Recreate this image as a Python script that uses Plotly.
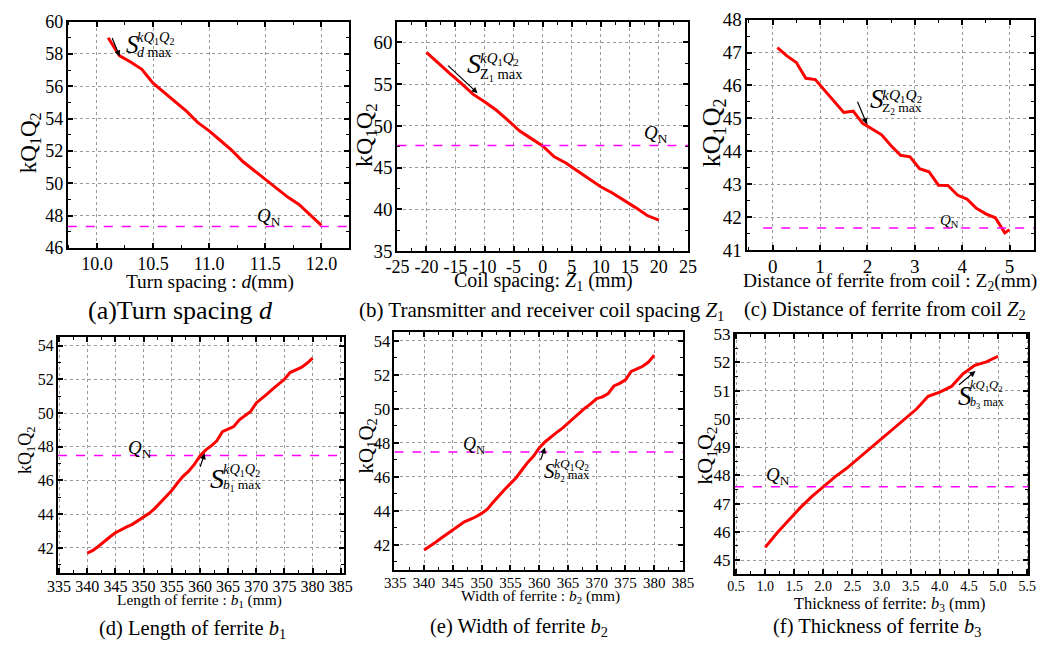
import plotly.graph_objects as go

W, H = 1053, 652
FONT = "Liberation Serif, Times New Roman, Times, serif"

# ---------------- data ----------------
d_a = [10.1, 10.2, 10.3, 10.4, 10.5, 10.6, 10.7, 10.8, 10.9, 11.0,
       11.1, 11.2, 11.3, 11.4, 11.5, 11.6, 11.7, 11.8, 11.9, 12.0]
kq_a = [59.0, 57.9, 57.5, 57.05, 56.2, 55.6, 55.0, 54.45, 53.75, 53.25,
        52.65, 52.05, 51.35, 50.8, 50.3, 49.7, 49.15, 48.7, 48.05, 47.4]
qn_a = 47.34

z1_b = [-20, -18, -16, -14, -12, -10, -8, -6, -4, -2, 0,
        2, 4, 6, 8, 10, 12, 14, 16, 18, 20]
kq_b = [58.8, 57.5, 56.3, 55.1, 53.8, 52.9, 51.9, 50.7, 49.4, 48.5, 47.6,
        46.3, 45.55, 44.6, 43.6, 42.7, 41.95, 41.1, 40.2, 39.25, 38.7]
qn_b = 47.65

z2_c = [0.1, 0.3, 0.5, 0.7, 0.9, 1.1, 1.3, 1.5, 1.7, 1.9, 2.1, 2.3, 2.5,
        2.7, 2.9, 3.1, 3.3, 3.5, 3.7, 3.9, 4.1, 4.3, 4.5, 4.7, 4.9, 5.0]
kq_c = [47.15, 46.9, 46.7, 46.22, 46.18, 45.85, 45.5, 45.18, 45.22, 44.85,
        44.68, 44.5, 44.17, 43.88, 43.83, 43.47, 43.38, 42.97, 42.96, 42.67,
        42.55, 42.27, 42.1, 41.98, 41.52, 41.62]
qn_c = 41.67

b1_d = list(range(340, 381))
kq_d = [41.7, 41.85, 42.1, 42.4, 42.65, 42.9, 43.1, 43.25, 43.4, 43.6,
        43.85, 44.05, 44.35, 44.7, 45.05, 45.4, 45.85, 46.25, 46.55, 46.95,
        47.45, 47.8, 48.05, 48.35, 48.9, 49.05, 49.2, 49.6, 49.85, 50.1,
        50.6, 50.85, 51.15, 51.45, 51.7, 52.0, 52.4, 52.55, 52.7, 52.95, 53.25]
qn_d = 47.48

b2_e = list(range(340, 381))
kq_e = [41.7, 41.9, 42.15, 42.4, 42.65, 42.9, 43.15, 43.35, 43.5, 43.65,
        43.85, 44.1, 44.5, 44.9, 45.25, 45.6, 45.95, 46.4, 46.85, 47.2,
        47.7, 48.05, 48.35, 48.6, 48.85, 49.15, 49.45, 49.8, 50.05, 50.3,
        50.6, 50.7, 50.9, 51.35, 51.5, 51.7, 52.2, 52.35, 52.5, 52.75, 53.15]
qn_e = 47.46

b3_f = [1.0, 1.2, 1.4, 1.6, 1.8, 2.0, 2.2, 2.4, 2.6, 2.8, 3.0,
        3.2, 3.4, 3.6, 3.8, 4.0, 4.2, 4.4, 4.6, 4.8, 5.0]
kq_f = [45.45, 45.95, 46.4, 46.85, 47.25, 47.6, 47.95, 48.25, 48.6, 48.95, 49.3,
        49.65, 50.0, 50.35, 50.8, 50.95, 51.15, 51.6, 51.9, 52.02, 52.22]
qn_f = 47.6

b_ticks = [-25, -20, -15, -10, -5, 0, 5, 10, 15, 20, 25]
b_ticktext = ["-25", "-20", "-15", "-10", "-5", "0", "5", "10", "15", "20", "25"]

# ---------------- layout helpers ----------------
def px2x(p):
    return p / W

def px2y(p):
    return 1 - p / H

panels = [
    dict(x=d_a, y=kq_a, qn=qn_a, box=(57, 345, 12, 246), xr=[9.74, 12.25], yr=[46, 60],
         xd=0.5, yd=2, xm=0.25, ym=1, xfs=18, yfs=18, xfmt=".1f", qx0=None),
    dict(x=z1_b, y=kq_b, qn=qn_b, box=(394, 691, 12, 249), xr=[-25, 25], yr=[35, 62.5],
         xd=5, yd=5, xm=2.5, ym=2.5, xfs=18, yfs=19, xfmt=None, qx0=None),
    dict(x=z2_c, y=kq_c, qn=qn_c, box=(751, 1045, 10, 248), xr=[-0.55, 5.52], yr=[41, 48],
         xd=1, yd=1, xm=0.5, ym=0.5, xfs=19, yfs=19, xfmt=None, qx0=-0.2),
    dict(x=b1_d, y=kq_d, qn=qn_d, box=(47, 339, 338, 582), xr=[334.8, 385.5], yr=[40.5, 54.5],
         xd=5, yd=2, xm=2.5, ym=1, xfs=16, yfs=16, xfmt=None, qx0=None),
    dict(x=b2_e, y=kq_e, qn=qn_e, box=(391, 686, 333, 579), xr=[334.85, 385], yr=[40.5, 54.5],
         xd=5, yd=2, xm=2.5, ym=1, xfs=15, yfs=16.5, xfmt=None, qx0=None),
    dict(x=b3_f, y=kq_f, qn=qn_f, box=(739, 1039, 335, 583), xr=[0.48, 5.52], yr=[44.5, 53],
         xd=0.5, yd=1, xm=0.25, ym=0.5, xfs=14, yfs=17, xfmt=".1f", qx0=None),
]

fig = go.Figure()
layout = dict(
    width=W, height=H, margin=dict(l=0, r=0, t=0, b=0),
    paper_bgcolor="white", plot_bgcolor="white", showlegend=False,
    font=dict(family=FONT, color="black"),
)
shapes = []
annotations = []

for i, p in enumerate(panels, start=1):
    sx = "" if i == 1 else str(i)
    xa, ya = "x" + sx, "y" + sx
    x0, x1, y0, y1 = p["box"]
    axcommon = dict(
        showline=True, linecolor="black", linewidth=2, mirror="allticks",
        ticks="inside", ticklen=5, tickwidth=1.5, tickcolor="black",
        showgrid=True, gridcolor="#9a9a9a", griddash="dot", gridwidth=1,
        zeroline=False,
    )
    xaxis = dict(axcommon, domain=[px2x(x0), px2x(x1)], range=p["xr"], anchor=ya,
                 dtick=p["xd"], tick0=0, ticklabelstandoff=-2,
                 tickfont=dict(family=FONT, size=p["xfs"], color="black"),
                 minor=dict(ticks="inside", ticklen=3, tickwidth=1.2, tickcolor="black",
                            dtick=p["xm"], showgrid=False))
    if p["xfmt"]:
        xaxis["tickformat"] = p["xfmt"]
    if i == 2:
        xaxis["tickmode"] = "array"
        xaxis["tickvals"] = b_ticks
        xaxis["ticktext"] = b_ticktext
    yaxis = dict(axcommon, domain=[px2y(y1), px2y(y0)], range=p["yr"], anchor=xa,
                 dtick=p["yd"], tick0=0, ticklabelstandoff=-1,
                 tickfont=dict(family=FONT, size=p["yfs"], color="black"),
                 minor=dict(ticks="inside", ticklen=3, tickwidth=1.2, tickcolor="black",
                            dtick=p["ym"], showgrid=False))
    layout["xaxis" + sx] = xaxis
    layout["yaxis" + sx] = yaxis

    fig.add_trace(go.Scatter(x=p["x"], y=p["y"], mode="lines", xaxis=xa, yaxis=ya,
                             line=dict(color="#ff0000", width=3), hoverinfo="skip"))
    if p["qx0"] is None:
        shapes.append(dict(type="line", xref=xa + " domain", yref=ya, x0=0, x1=1,
                           y0=p["qn"], y1=p["qn"],
                           line=dict(color="#ff00ff", width=1.5, dash="dash")))
    else:
        shapes.append(dict(type="line", xref=xa, yref=ya, x0=p["qx0"], x1=p["xr"][1],
                           y0=p["qn"], y1=p["qn"],
                           line=dict(color="#ff00ff", width=1.5, dash="dash")))


def txt(x, y, text, size, xanchor="center", yanchor="middle", angle=0):
    annotations.append(dict(x=px2x(x), y=px2y(y), xref="paper", yref="paper",
                            text=text, showarrow=False, xanchor=xanchor, yanchor=yanchor,
                            textangle=angle, borderpad=0,
                            font=dict(family=FONT, size=size, color="black")))


def arrow(xh, yh, xt, yt):
    annotations.append(dict(x=px2x(xh), y=px2y(yh), xref="paper", yref="paper",
                            ax=xt - xh, ay=yt - yh, axref="pixel", ayref="pixel",
                            text="", showarrow=True, arrowhead=2, arrowsize=1,
                            arrowwidth=1.2, arrowcolor="black"))


KQ = "kQ<sub>1</sub>Q<sub>2</sub>"
SUP = "<i>kQ</i><sub>1</sub><i>Q</i><sub>2</sub>"
QN = "<i>Q</i><sub>N</sub>"

# y-axis titles
txt(18, 137, KQ, 23, angle=-90)
txt(362, 130, KQ, 24, angle=-90)
txt(717, 127, KQ, 26, angle=-90)
txt(15, 455, KQ, 18, angle=-90)
txt(362, 450, KQ, 21, angle=-90)
txt(710, 460, KQ, 22, angle=-90)

# x-axis titles
txt(202, 281, "Turn spacing : <i>d</i>(mm)", 19.3)
txt(543, 281, "Coil spacing: <i>Z</i><sub>1</sub> (mm)", 20)
txt(898, 281, "Distance of ferrite from coil : Z<sub>2</sub>(mm)", 19.4)
txt(192, 610, "Length of ferrite : <i>b</i><sub>1</sub> (mm)", 15.4)
txt(540, 606, "Width of ferrite : <i>b</i><sub>2</sub> (mm)", 15.4)
txt(897, 614, "Thickness of ferrite: <i>b</i><sub>3</sub> (mm)", 16.4)

# captions
txt(172, 311, "(a)Turn spacing <i>d</i>", 26)
txt(541, 311, "(b) Transmitter and receiver coil spacing <i>Z</i><sub>1</sub>", 21)
txt(893, 311, "(c) Distance of ferrite from coil <i>Z</i><sub>2</sub>", 20.5)
txt(185, 640, "(d) Length of ferrite <i>b</i><sub>1</sub>", 20.5)
txt(518, 638, "(e) Width of ferrite <i>b</i><sub>2</sub>", 20.5)
txt(884, 638, "(f) Thickness of ferrite <i>b</i><sub>3</sub>", 20.5)

# QN labels
txt(249, 214, QN, 19, xanchor="left")
txt(645, 128, QN, 19, xanchor="left")
txt(948, 218, QN, 15, xanchor="left")
txt(118, 454, QN, 19, xanchor="left")
txt(460, 450, QN, 18, xanchor="left")
txt(770, 482, QN, 19, xanchor="left")

# S annotations: (S centre x, S centre y, sup left x, sup y, sub y, sub text, S size, sup size, sub size)
S_specs = [
    (123, 36, 127, 29, 44, "<i>d</i> max", 25, 14.5, 14),
    (472, 55, 477, 51, 67, "Z<sub>1</sub> max", 28, 15, 14.5),
    (884, 92, 888, 88, 102, "Z<sub>2</sub> max", 27, 15.5, 13.5),
    (210, 484, 215, 475, 491, "<i>b</i><sub>1</sub> max", 28, 14.4, 13.5),
    (550, 476, 553, 470, 481, "<i>b</i><sub>2</sub> max", 21, 13.5, 12.5),
    (974, 399, 978, 389, 406, "<i>b</i><sub>3</sub> max", 27, 12.6, 12),
]
for sxp, syp, lx, supy, suby, subt, ss, s1, s2 in S_specs:
    txt(sxp, syp, "<i>S</i>", ss)
    txt(lx, supy, SUP, s1, xanchor="left")
    txt(lx, suby, subt, s2, xanchor="left")

# arrows (head, tail)
arrow(110, 48, 102, 28)
arrow(476, 86, 445, 57)
arrow(874, 118, 864, 94)
arrow(197, 458, 192, 473)
arrow(545, 452, 540, 466)
arrow(985, 373, 967, 388)

layout["shapes"] = shapes
layout["annotations"] = annotations
fig.update_layout(**layout)
fig.write_html("out.html")
